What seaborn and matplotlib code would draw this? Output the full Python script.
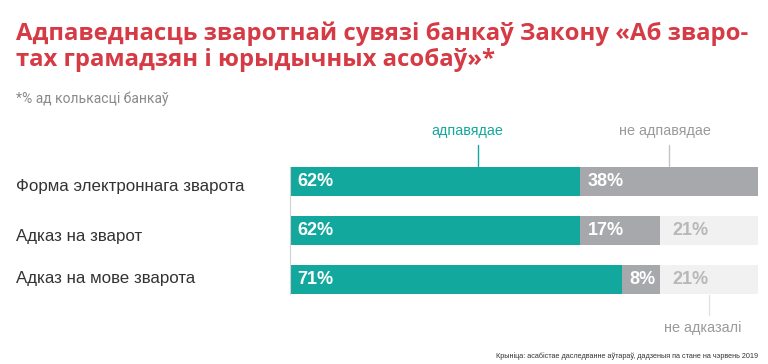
import seaborn as sns
import matplotlib.pyplot as plt
import pandas as pd

sns.set_style("white")
plt.rcParams['font.family'] = ['Liberation Sans', 'DejaVu Sans']

categories = ["Форма электроннага зварота", "Адказ на зварот", "Адказ на мове зварота"]
complies = [62, 62, 71]
not_complies = [38, 17, 8]
no_answer = [0, 21, 21]

TEAL = "#13a89e"
GREY = "#a7a8ac"
LIGHT = "#f1f1f1"

df = pd.DataFrame({"cat": categories, "yes": complies, "no": not_complies, "na": no_answer})
df["c2"] = df["yes"] + df["no"]
df["c3"] = df["c2"] + df["na"]

fig = plt.figure(figsize=(7.68, 3.64), dpi=100)
ax = fig.add_axes([290 / 768, 1 - 304 / 364, 468 / 768, 147 / 364])

# stacked bars: draw cumulative totals back to front
sns.barplot(data=df, y="cat", x="c3", color=LIGHT, width=0.59, saturation=1, ax=ax, orient="h")
sns.barplot(data=df, y="cat", x="c2", color=GREY, width=0.59, saturation=1, ax=ax, orient="h")
sns.barplot(data=df, y="cat", x="yes", color=TEAL, width=0.59, saturation=1, ax=ax, orient="h")
for p in ax.patches:
    p.set_edgecolor("none")

ax.set_xlim(0, 100)
ax.set_ylim(2.5, -0.5)
ax.set_xlabel("")
ax.set_ylabel("")
ax.set_xticks([])
ax.set_yticks([])
for s in ["top", "right", "bottom"]:
    ax.spines[s].set_visible(False)
ax.spines["left"].set_color("#d0d0d0")
ax.spines["left"].set_linewidth(0.8)
ax.spines["left"].set_bounds(-0.3, 2.3)

# value labels
for i, row in df.iterrows():
    ax.text(1.6, i, f"{row['yes']}%", color="white", fontsize=13, fontweight="bold",
            va="center", ha="left")
    ax.text(row["yes"] + 1.6, i, f"{row['no']}%", color="white", fontsize=13,
            fontweight="bold", va="center", ha="left")
    if row["na"] > 0:
        ax.text(row["c2"] + 2.6, i, f"{row['na']}%", color="#b8b8b8", fontsize=13,
                fontweight="bold", va="center", ha="left")

# category labels
label_y = [187, 236, 279]
for c, y in zip(categories, label_y):
    fig.text(16 / 768, 1 - y / 364, c, fontsize=12.2, color="#333333",
             va="center", ha="left")

# callouts
ax.plot([40.2, 40.2], [-0.745, -0.31], color=TEAL, lw=1, clip_on=False)
ax.text(37.8, -1.03, "адпавядае", color=TEAL, fontsize=10.4, ha="center", va="center")
ax.plot([81, 81], [-0.745, -0.31], color="#c4c4c4", lw=1, clip_on=False)
ax.text(80.1, -1.03, "не адпавядае", color="#9a9a9a", fontsize=10.4, ha="center", va="center")
ax.plot([89.5, 89.5], [2.31, 2.72], color="#e2e2e2", lw=1, clip_on=False)
ax.text(88.2, 2.99, "не адказалі", color="#9a9a9a", fontsize=10.4, ha="center", va="center")

title_font = ['Open Sans', 'DejaVu Sans']
fig.text(16 / 768, 1 - 40 / 364, "Адпаведнасць зваротнай сувязі банкаў Закону «Аб зваро-",
         fontsize=17.2, fontweight="bold", color="#d63a45", va="baseline", ha="left",
         family=title_font)
fig.text(16 / 768, 1 - 66 / 364, "тах грамадзян і юрыдычных асобаў»*",
         fontsize=17.2, fontweight="bold", color="#d63a45", va="baseline", ha="left",
         family=title_font)
fig.text(16 / 768, 1 - 103 / 364, "*% ад колькасці банкаў", fontsize=10,
         color="#8a8a8a", va="baseline", ha="left", family=['Roboto', 'DejaVu Sans'])
fig.text(758 / 768, 1 - 356 / 364,
         "Крыніца: асабістае даследванне аўтараў, дадзеныя па стане на чэрвень 2019",
         fontsize=5.2, color="#333333", va="center", ha="right")

fig.savefig("out.png", dpi=100)
